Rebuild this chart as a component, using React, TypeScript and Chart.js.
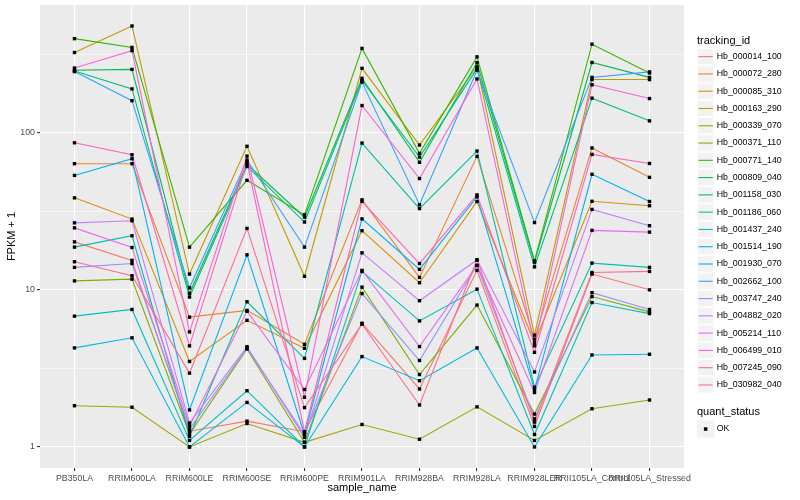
import React, { useEffect, useRef } from "react";
import { Chart, registerables } from "chart.js";

Chart.register(...registerables);

const FONT = '"Liberation Sans", Arial, Helvetica, sans-serif';

// x categories
const sampleNames = [
  "PB350LA",
  "RRIM600LA",
  "RRIM600LE",
  "RRIM600SE",
  "RRIM600PE",
  "RRIM901LA",
  "RRIM928BA",
  "RRIM928LA",
  "RRIM928LER",
  "RRII105LA_Control",
  "RRII105LA_Stressed",
];

// legend order
const trackingIds = [
  "Hb_000014_100",
  "Hb_000072_280",
  "Hb_000085_310",
  "Hb_000163_290",
  "Hb_000339_070",
  "Hb_000371_110",
  "Hb_000771_140",
  "Hb_000809_040",
  "Hb_001158_030",
  "Hb_001186_060",
  "Hb_001437_240",
  "Hb_001514_190",
  "Hb_001930_070",
  "Hb_002662_100",
  "Hb_003747_240",
  "Hb_004882_020",
  "Hb_005214_110",
  "Hb_006499_010",
  "Hb_007245_090",
  "Hb_030982_040",
];

const seriesColors = [
  "#F8766D", "#EA8331", "#D89000", "#C09B00", "#A3A500",
  "#7CAE00", "#39B600", "#00BB4E", "#00BF7D", "#00C1A3",
  "#00BFC4", "#00BAE0", "#00B0F6", "#35A2FF", "#9590FF",
  "#C77CFF", "#E76BF3", "#FA62DB", "#FF62BC", "#FF6C91",
];

// FPKM + 1 values, one array per tracking_id (same order as sampleNames)
const hb000014_100 = [20.2, 15.4, 1.26, 1.46, 1.25, 6.13, 2.34, 13.3, 1.35, 12.6, 10.0];
const hb000072_280 = [63.5, 63.5, 6.7, 7.4, 4.5, 37.4, 12.0, 70.7, 4.85, 80, 52];
const hb000085_310 = [38.5, 28.2, 3.5, 6.4, 4.25, 23.8, 11.1, 36.5, 4.6, 36.6, 34.3];
const hb000163_290 = [324, 478, 12.6, 82, 12.2, 257, 83.5, 263, 5.15, 218, 218];
const hb000339_070 = [1.83, 1.79, 1.0, 1.41, 1.07, 1.39, 1.12, 1.8, 1.1, 1.75, 1.99];
const hb000371_110 = [11.4, 11.7, 1.21, 4.2, 1.07, 10.4, 2.89, 8.0, 1.62, 9.06, 7.24];
const hb000771_140 = [397, 349, 18.7, 49.8, 30, 344, 73.9, 304, 15.3, 366, 240];
const hb000809_040 = [250, 253, 9.5, 63, 29, 222, 64.8, 279, 15.0, 280, 225];
const hb001158_030 = [247, 190, 9.0, 61, 27, 215, 70, 256, 14.0, 166, 119];
const hb001186_060 = [18.7, 22.1, 1.17, 8.4, 3.66, 86, 32.9, 76.5, 2.4, 14.8, 13.9];
const hb001437_240 = [6.8, 7.5, 1.1, 2.28, 1.0, 13.1, 6.34, 10.1, 1.2, 8.3, 7.06];
const hb001514_190 = [4.27, 4.95, 1.0, 1.92, 1.0, 3.76, 2.64, 4.27, 1.0, 3.85, 3.89];
const hb001930_070 = [53.5, 68.3, 1.72, 16.7, 1.2, 28.3, 13.5, 39.1, 2.31, 54.4, 36.5];
const hb002662_100 = [245, 160, 10.3, 67, 18.7, 210, 34.8, 250, 26.8, 225, 244];
const hb003747_240 = [13.9, 14.7, 1.3, 4.27, 1.2, 9.47, 3.55, 14.3, 1.51, 9.6, 7.5];
const hb004882_020 = [26.7, 27.5, 1.42, 4.35, 1.15, 17.2, 8.53, 15.5, 3.0, 32.5, 25.6];
const hb005214_110 = [24.8, 18.6, 1.36, 7.3, 2.32, 13.3, 4.35, 14.3, 2.22, 23.9, 23.3];
const hb006499_010 = [258, 333, 5.4, 71, 2.07, 149, 51.1, 220, 4.4, 202, 165];
const hb007245_090 = [86.3, 72.4, 4.4, 65, 1.25, 36.6, 14.7, 40.2, 4.0, 72.8, 63.7];
const hb030982_040 = [15.1, 12.3, 2.95, 24.6, 1.78, 6.04, 1.85, 15.5, 1.44, 12.9, 13.1];

const seriesValues = [
  hb000014_100, hb000072_280, hb000085_310, hb000163_290, hb000339_070,
  hb000371_110, hb000771_140, hb000809_040, hb001158_030, hb001186_060,
  hb001437_240, hb001514_190, hb001930_070, hb002662_100, hb003747_240,
  hb004882_020, hb005214_110, hb006499_010, hb007245_090, hb030982_040,
];

// y axis ticks (log10 scale)
const yMajorTicks = [1, 10, 100];
const yMinorTicks = [3.1623, 31.623, 316.23];
const yTickLabels = ["1", "10", "100"];

const quantStatus = ["OK"];

const isMajor = (v: number) => yMajorTicks.some((m) => Math.abs(m - v) < 1e-6);

const panelBg = {
  id: "panelBg",
  beforeDraw(chart: any) {
    const { ctx, chartArea } = chart;
    ctx.save();
    ctx.fillStyle = "#FFFFFF";
    ctx.fillRect(0, 0, chart.width, chart.height);
    ctx.fillStyle = "#EBEBEB";
    ctx.fillRect(chartArea.left, chartArea.top, chartArea.right - chartArea.left, chartArea.bottom - chartArea.top);
    ctx.restore();
  },
};

const ggLegend = {
  id: "ggLegend",
  afterDraw(chart: any) {
    const ctx = chart.ctx as CanvasRenderingContext2D;
    const x0 = 697;
    const key = 17.28;
    ctx.save();
    ctx.textAlign = "left";
    ctx.textBaseline = "middle";
    ctx.fillStyle = "#000000";
    ctx.font = `11px ${FONT}`;
    ctx.fillText("tracking_id", x0, 40.5);
    trackingIds.forEach((id, i) => {
      const top = 48 + i * key;
      ctx.fillStyle = "#F2F2F2";
      ctx.fillRect(x0, top, key, key);
      ctx.strokeStyle = "#FFFFFF";
      ctx.lineWidth = 1;
      ctx.strokeRect(x0 + 0.5, top + 0.5, key - 1, key - 1);
      ctx.strokeStyle = seriesColors[i];
      ctx.lineWidth = 1.1;
      ctx.beginPath();
      ctx.moveTo(x0 + 1.5, top + key / 2);
      ctx.lineTo(x0 + key - 1.5, top + key / 2);
      ctx.stroke();
      ctx.fillStyle = "#000000";
      ctx.font = `8.8px ${FONT}`;
      ctx.fillText(id, x0 + key + 2.4, top + key / 2);
    });
    ctx.font = `11px ${FONT}`;
    ctx.fillText("quant_status", x0, 412.3);
    quantStatus.forEach((s, i) => {
      const top = 420.4 + i * key;
      ctx.fillStyle = "#F2F2F2";
      ctx.fillRect(x0, top, key, key);
      ctx.fillStyle = "#000000";
      ctx.fillRect(x0 + key / 2 - 1.75, top + key / 2 - 1.75, 3.5, 3.5);
      ctx.font = `8.8px ${FONT}`;
      ctx.fillText(s, x0 + key + 2.4, top + key / 2);
    });
    ctx.restore();
  },
};

export default function App() {
  const canvasRef = useRef<HTMLCanvasElement | null>(null);

  useEffect(() => {
    if (!canvasRef.current) return;
    const n = trackingIds.length;
    const lineSets = trackingIds.map((id, i) => ({
      type: "line" as const,
      label: id,
      data: seriesValues[i].map((v, j) => ({ x: j, y: v })),
      borderColor: seriesColors[i],
      backgroundColor: seriesColors[i],
      borderWidth: 1.1,
      pointRadius: 0,
      pointHoverRadius: 0,
      tension: 0,
      fill: false,
      order: n - i,
    }));
    const pointSet = {
      type: "scatter" as const,
      label: "OK",
      data: seriesValues.flatMap((vals) => vals.map((v, j) => ({ x: j, y: v }))),
      pointStyle: "rect",
      pointRadius: 2.4,
      pointHoverRadius: 2.4,
      pointBorderWidth: 0,
      backgroundColor: "#000000",
      borderColor: "#000000",
      showLine: false,
      order: 0,
    };

    const chart = new Chart(canvasRef.current, {
      type: "line",
      data: { datasets: [...lineSets, pointSet] as any },
      options: {
        responsive: false,
        animation: false,
        devicePixelRatio: 1,
        layout: { padding: { top: 5, right: 116, left: 0, bottom: 0 } },
        plugins: {
          legend: { display: false },
          tooltip: { enabled: false },
        },
        scales: {
          x: {
            type: "linear",
            min: -0.6,
            max: 10.6,
            bounds: "data",
            afterBuildTicks: (scale: any) => {
              scale.ticks = sampleNames.map((_, i) => ({ value: i }));
            },
            afterFit: (scale: any) => {
              scale.height = 32;
              scale.paddingLeft = 0;
              scale.paddingRight = 0;
            },
            ticks: {
              autoSkip: false,
              maxRotation: 0,
              minRotation: 0,
              padding: 2,
              color: "#4D4D4D",
              font: { family: FONT, size: 8.8 },
              callback: (value: any) => sampleNames[value as number] ?? "",
            },
            grid: {
              color: "#FFFFFF",
              lineWidth: 1.1,
              tickColor: "#333333",
              tickLength: 3,
              tickWidth: 1.1,
            },
            border: { display: false },
            title: {
              display: true,
              text: "sample_name",
              color: "#000000",
              font: { family: FONT, size: 11 },
              padding: { top: 0, bottom: 5 },
            },
          },
          y: {
            type: "logarithmic",
            min: Math.pow(10, -0.134),
            max: Math.pow(10, 2.813),
            bounds: "data",
            afterBuildTicks: (scale: any) => {
              const all = [...yMajorTicks, ...yMinorTicks].sort((a, b) => a - b);
              scale.ticks = all.map((v) => ({ value: v }));
            },
            afterFit: (scale: any) => {
              scale.width = 40;
              scale.paddingTop = 0;
              scale.paddingBottom = 0;
            },
            ticks: {
              autoSkip: false,
              padding: 2,
              color: "#4D4D4D",
              font: { family: FONT, size: 8.8 },
              callback: (value: any) => {
                const idx = yMajorTicks.findIndex((m) => Math.abs(m - Number(value)) < 1e-6);
                return idx >= 0 ? yTickLabels[idx] : "";
              },
            },
            grid: {
              color: "#FFFFFF",
              lineWidth: (ctx: any) => (ctx.tick && isMajor(ctx.tick.value) ? 1.1 : 0.55),
              tickColor: (ctx: any) => (ctx.tick && isMajor(ctx.tick.value) ? "#333333" : "rgba(0,0,0,0)"),
              tickLength: 3,
              tickWidth: 1.1,
            },
            border: { display: false },
            title: {
              display: true,
              text: "FPKM + 1",
              color: "#000000",
              font: { family: FONT, size: 11 },
              padding: { top: 5.4, bottom: 0 },
            },
          },
        },
      } as any,
      plugins: [panelBg, ggLegend],
    });

    return () => chart.destroy();
  }, []);

  return (
    <div style={{ position: "absolute", left: 0, top: 0, width: 800, height: 500, background: "#fff" }}>
      <canvas ref={canvasRef} width={800} height={500} style={{ display: "block" }} />
    </div>
  );
}
